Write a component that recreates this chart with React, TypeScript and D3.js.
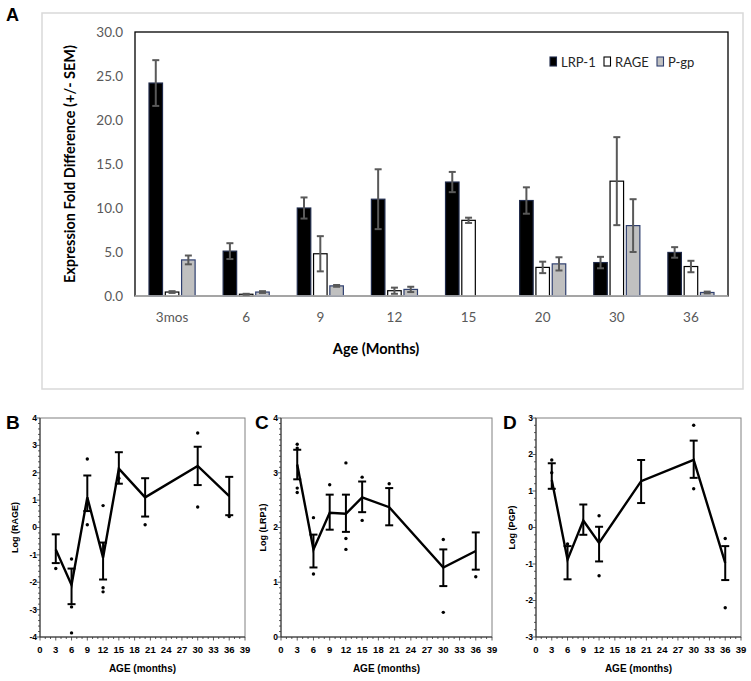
import React from "react";
import * as d3 from "d3";

// ---------- Panel A data ----------
const categories = ["3mos", "6", "9", "12", "15", "20", "30", "36"];
const seriesNames = ["LRP-1", "RAGE", "P-gp"];
const lrp1 = [24.2, 5.1, 10.0, 11.0, 12.95, 10.85, 3.8, 4.95];
const lrp1Sem = [2.6, 0.9, 1.2, 3.4, 1.15, 1.5, 0.65, 0.6];
const rage = [0.45, 0.2, 4.8, 0.6, 8.6, 3.25, 13.05, 3.35];
const rageSem = [0.1, 0.05, 2.0, 0.35, 0.3, 0.65, 5.0, 0.65];
const pgp = [4.1, 0.45, 1.15, 0.75, 0, 3.65, 8.0, 0.4];
const pgpSem = [0.5, 0.1, 0.1, 0.3, 0, 0.75, 3.0, 0.1];
const yTicksA = [0, 5, 10, 15, 20, 25, 30];

// ---------- Panel B (RAGE log) ----------
const agesB = [3, 6, 9, 12, 15, 20, 30, 36];
const meanB = [-0.8, -2.1, 1.1, -1.1, 2.15, 1.1, 2.25, 1.15];
const lowB = [-1.3, -2.8, 0.6, -1.9, 1.6, 0.4, 1.55, 0.45];
const highB = [-0.25, -1.5, 1.9, -0.55, 2.75, 1.8, 2.95, 1.85];
const dotsBAge = [3, 6, 6, 6, 9, 9, 12, 12, 12, 15, 20, 30, 30, 36];
const dotsBVal = [-1.5, -1.15, -2.9, -3.85, 2.5, 0.1, 0.8, -2.2, -2.35, 1.8, 0.1, 3.45, 0.75, 0.4];

// ---------- Panel C (LRP1 log) ----------
const agesC = [3, 6, 9, 12, 15, 20, 30, 36];
const meanC = [3.15, 1.6, 2.27, 2.25, 2.55, 2.37, 1.27, 1.57];
const lowC = [2.88, 1.27, 1.96, 1.92, 2.28, 2.04, 0.93, 1.23];
const highC = [3.42, 1.87, 2.6, 2.6, 2.84, 2.72, 1.6, 1.91];
const dotsCAge = [3, 3, 3, 3, 6, 6, 9, 12, 12, 12, 15, 15, 20, 30, 30, 36];
const dotsCVal = [3.52, 3.45, 2.72, 2.64, 2.18, 1.15, 2.78, 3.18, 1.8, 1.6, 2.92, 2.13, 2.8, 1.78, 0.45, 1.1];

// ---------- Panel D (PGP log) ----------
const agesD = [3, 6, 9, 12, 20, 30, 36];
const meanD = [1.3, -0.88, 0.19, -0.42, 1.27, 1.85, -0.97];
const lowD = [1.06, -1.42, -0.2, -0.93, 0.67, 1.36, -1.44];
const highD = [1.76, -0.51, 0.63, 0.02, 1.85, 2.38, -0.51];
const dotsDAge = [3, 3, 6, 12, 12, 30, 30, 36, 36];
const dotsDVal = [1.85, 1.5, -0.45, 0.32, -1.32, 2.8, 1.06, -0.3, -2.2];

const xTicksLine = d3.range(0, 40, 3);

const fontA = "Lato, 'Open Sans', sans-serif";
const fontB = "'Liberation Sans Narrow', 'Liberation Sans', Arial, sans-serif";

function PanelA() {
  const left = 135, right = 728, top = 32, bottom = 296;
  const x0 = d3.scaleBand<string>().domain(categories).range([left, right]);
  const x1 = d3
    .scaleBand<string>()
    .domain(seriesNames)
    .range([0, x0.bandwidth()])
    .paddingInner(0.17)
    .paddingOuter(0.86);
  const y = d3.scaleLinear().domain([0, 30]).range([bottom, top]);
  const vals = [lrp1, rage, pgp];
  const sems = [lrp1Sem, rageSem, pgpSem];
  const fills = ["#000000", "#ffffff", "#c0c0c0"];
  const strokes = ["#1f2a4a", "#000000", "#2f3f6f"];
  return (
    <g>
      <rect x={42} y={13} width={701} height={376} fill="#fff" stroke="#d9d9d9" strokeWidth={1.5} />
      <text x={6} y={21} fontFamily="Arial, 'Liberation Sans', sans-serif" fontWeight="bold" fontSize={18}>
        A
      </text>
      <rect x={left} y={top} width={right - left} height={bottom - top} fill="none" stroke="#000" strokeWidth={1.3} />
      {yTicksA.map((t) => (
        <text key={t} x={123} y={y(t)} dy="0.35em" textAnchor="end" fontFamily={fontA} fontSize={13.5} fill="#595959">
          {t.toFixed(1)}
        </text>
      ))}
      {categories.map((c, i) =>
        seriesNames.map((s, j) => {
          const v = vals[j][i];
          if (v <= 0) return null;
          const bx = (x0(c) as number) + (x1(s) as number);
          const bw = x1.bandwidth();
          return (
            <rect
              key={c + s}
              x={bx}
              y={y(v)}
              width={bw}
              height={bottom - y(v)}
              fill={fills[j]}
              stroke={strokes[j]}
              strokeWidth={1.2}
            />
          );
        })
      )}
      <line x1={left} x2={right} y1={bottom} y2={bottom} stroke="#bfbfbf" strokeWidth={1.5} />
      {categories.map((c, i) =>
        seriesNames.map((s, j) => {
          const v = vals[j][i];
          const e = sems[j][i];
          if (v <= 0) return null;
          const cx = (x0(c) as number) + (x1(s) as number) + x1.bandwidth() / 2;
          const y1 = y(v + e), y2 = y(v - e);
          return (
            <g key={"e" + c + s} stroke="#595959" strokeWidth={2}>
              <line x1={cx} x2={cx} y1={y1} y2={y2} />
              <line x1={cx - 3.5} x2={cx + 3.5} y1={y1} y2={y1} />
              <line x1={cx - 3.5} x2={cx + 3.5} y1={y2} y2={y2} />
            </g>
          );
        })
      )}
      {categories.map((c) => (
        <text
          key={"t" + c}
          x={(x0(c) as number) + x0.bandwidth() / 2}
          y={317}
          dy="0.35em"
          textAnchor="middle"
          fontFamily={fontA}
          fontSize={13.5}
          fill="#595959"
        >
          {c}
        </text>
      ))}
      <text x={376} y={349} dy="0.35em" textAnchor="middle" fontFamily={fontA} fontWeight="bold" fontSize={14.5}>
        Age (Months)
      </text>
      <text
        transform={`translate(70,${(top + bottom) / 2}) rotate(-90)`}
        textAnchor="middle"
        dy="0.35em"
        fontFamily={fontA}
        fontWeight="bold"
        fontSize={14.5}
      >
        Expression Fold Difference (+/- SEM)
      </text>
      {/* legend */}
      {seriesNames.map((s, j) => {
        const lx = [550, 604, 657][j];
        return (
          <g key={"lg" + s}>
            <rect x={lx} y={57} width={6.5} height={9} fill={fills[j]} stroke={strokes[j]} strokeWidth={1.1} />
            <text x={lx + 11} y={62} dy="0.35em" fontFamily={fontA} fontSize={13} fill="#262626">
              {s}
            </text>
          </g>
        );
      })}
    </g>
  );
}

type LineProps = {
  letter: string;
  letterX: number;
  left: number;
  right: number;
  yDomain: [number, number];
  yMinor: number;
  title: string;
  titleX: number;
  ages: number[];
  mean: number[];
  low: number[];
  high: number[];
  dotAge: number[];
  dotVal: number[];
};

function LinePanel(p: LineProps) {
  const top = 418, bottom = 637;
  const x = d3.scaleLinear().domain([0, 39]).range([p.left, p.right]);
  const y = d3.scaleLinear().domain(p.yDomain).range([bottom, top]);
  const yTicks = d3.range(p.yDomain[0], p.yDomain[1] + 0.001, 1);
  const yMinorTicks = d3.range(p.yDomain[0], p.yDomain[1] + 0.001, p.yMinor);
  const xMinor = d3.range(0, 40, 1);
  const line = d3
    .line<number>()
    .x((_, i) => x(p.ages[i]))
    .y((d) => y(d));
  return (
    <g>
      <text x={p.letterX} y={429} fontFamily="Arial, 'Liberation Sans', sans-serif" fontWeight="bold" fontSize={19}>
        {p.letter}
      </text>
      <rect x={p.left} y={top} width={p.right - p.left} height={bottom - top} fill="none" stroke="#808080" strokeWidth={1} />
      <line x1={p.left} x2={p.left} y1={top} y2={bottom} stroke="#333" strokeWidth={1} />
      <line x1={p.left} x2={p.right} y1={bottom} y2={bottom} stroke="#333" strokeWidth={1} />
      {xMinor.map((t) => (
        <line key={"xm" + t} x1={x(t)} x2={x(t)} y1={bottom} y2={bottom + (t % 3 === 0 ? 3.5 : 2)} stroke="#333" strokeWidth={0.8} />
      ))}
      {yMinorTicks.map((t, i) => (
        <line key={"ym" + i} x1={p.left} x2={p.left - (Math.abs(t - Math.round(t)) < 1e-6 ? 3.5 : 2)} y1={y(t)} y2={y(t)} stroke="#333" strokeWidth={0.8} />
      ))}
      {xTicksLine.map((t) => (
        <text key={"xt" + t} x={x(t)} y={650} dy="0.35em" textAnchor="middle" fontFamily={fontB} fontWeight="bold" fontSize={9.5}>
          {t}
        </text>
      ))}
      {yTicks.map((t) => (
        <text key={"yt" + t} x={p.left - 3} y={y(t)} dy="0.35em" textAnchor="end" fontFamily={fontB} fontWeight="bold" fontSize={8.5}>
          {t}
        </text>
      ))}
      <text x={(p.left + p.right) / 2} y={668} dy="0.35em" textAnchor="middle" fontFamily={fontB} fontWeight="bold" fontSize={10}>
        AGE (months)
      </text>
      <text
        transform={`translate(${p.titleX},${(top + bottom) / 2}) rotate(-90)`}
        textAnchor="middle"
        dy="0.35em"
        fontFamily={fontB}
        fontWeight="bold"
        fontSize={9}
      >
        {p.title}
      </text>
      {p.dotAge.map((a, i) => (
        <circle key={"d" + i} cx={x(a)} cy={y(p.dotVal[i])} r={1.7} fill="#000" />
      ))}
      <path d={line(p.mean) || ""} fill="none" stroke="#000" strokeWidth={2.4} strokeLinejoin="miter" />
      {p.ages.map((a, i) => {
        const cx = x(a);
        return (
          <g key={"eb" + i} stroke="#000" strokeWidth={2}>
            <line x1={cx} x2={cx} y1={y(p.high[i])} y2={y(p.low[i])} />
            <line x1={cx - 4} x2={cx + 4} y1={y(p.high[i])} y2={y(p.high[i])} />
            <line x1={cx - 4} x2={cx + 4} y1={y(p.low[i])} y2={y(p.low[i])} />
          </g>
        );
      })}
    </g>
  );
}

export default function App() {
  return (
    <svg
      width={751}
      height={681}
      viewBox="0 0 751 681"
      style={{ position: "absolute", left: 0, top: 0, background: "#fff" }}
    >
      <rect x={0} y={0} width={751} height={681} fill="#fff" />
      <PanelA />
      <LinePanel
        letter="B"
        letterX={6}
        left={40}
        right={245}
        yDomain={[-4, 4]}
        yMinor={0.2}
        title="Log (RAGE)"
        titleX={15}
        ages={agesB}
        mean={meanB}
        low={lowB}
        high={highB}
        dotAge={dotsBAge}
        dotVal={dotsBVal}
      />
      <LinePanel
        letter="C"
        letterX={255}
        left={281}
        right={492}
        yDomain={[0, 4]}
        yMinor={0.1}
        title="Log (LRP1)"
        titleX={263}
        ages={agesC}
        mean={meanC}
        low={lowC}
        high={highC}
        dotAge={dotsCAge}
        dotVal={dotsCVal}
      />
      <LinePanel
        letter="D"
        letterX={503}
        left={536}
        right={741}
        yDomain={[-3, 3]}
        yMinor={0.2}
        title="Log (PGP)"
        titleX={512}
        ages={agesD}
        mean={meanD}
        low={lowD}
        high={highD}
        dotAge={dotsDAge}
        dotVal={dotsDVal}
      />
    </svg>
  );
}
